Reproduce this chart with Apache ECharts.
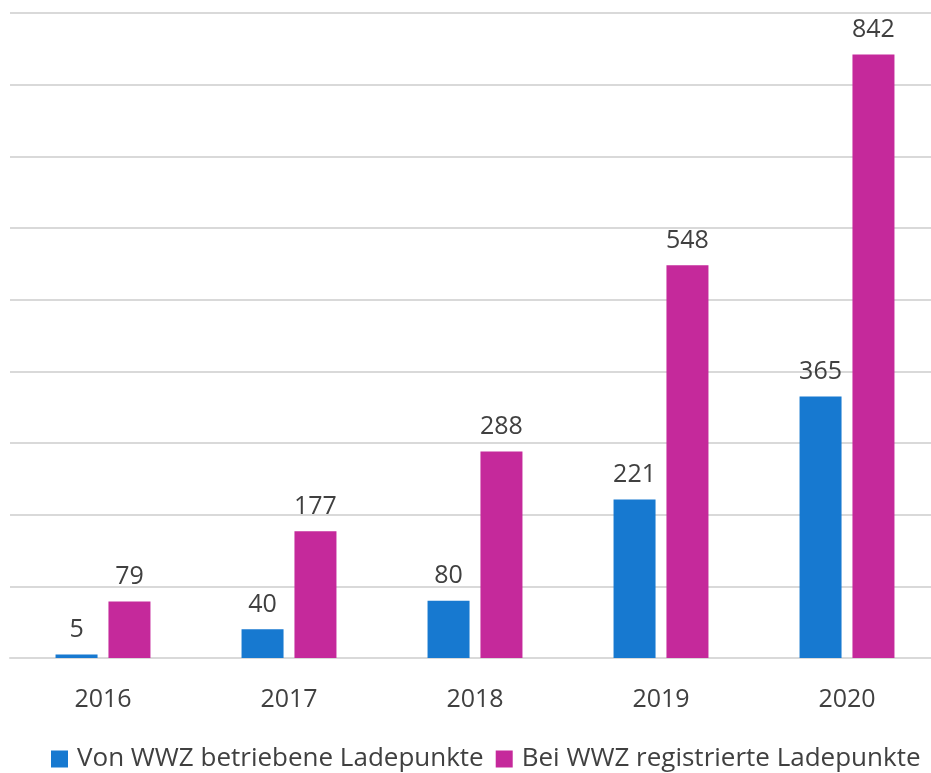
<!DOCTYPE html>
<html>
<head>
<meta charset="utf-8">
<script src="https://cdn.jsdelivr.net/npm/echarts@6/dist/echarts.min.js"></script>
<style>
html, body { margin: 0; padding: 0; background: #fff; }
#chart { width: 931px; height: 773px; }
</style>
</head>
<body>
<div id="chart"></div>
<script>
var years = ['2016', '2017', '2018', '2019', '2020'];
var betrieben = [5, 40, 80, 221, 365];
var registriert = [79, 177, 288, 548, 842];

var txt = '#404040';
var fontFam = '"Open Sans", "Noto Sans", sans-serif';

var labelStyle = {
    show: true,
    position: 'top',
    distance: 12,
    color: txt,
    fontSize: 25,
    fontFamily: fontFam
};

var myEcharts = echarts.init(document.getElementById('chart'));
var option = {
    animation: false,
    textStyle: { fontFamily: fontFam },
    legend: {
        bottom: -4,
        left: 46,
        itemWidth: 17,
        itemHeight: 17,
        itemGap: 12,
        icon: 'rect',
        textStyle: { color: txt, fontSize: 26, fontFamily: fontFam, padding: [0, 0, 0, 4] },
        data: ['Von WWZ betriebene Ladepunkte', 'Bei WWZ registrierte Ladepunkte']
    },
    grid: {
        left: 10,
        right: -9,
        top: 13,
        bottom: 115,
        outerBoundsMode: 'none'
    },
    xAxis: {
        type: 'category',
        data: years,
        axisTick: { show: false },
        axisLine: { lineStyle: { color: '#d9d9d9', width: 2 } },
        axisLabel: { color: txt, fontSize: 25, margin: 29, fontFamily: fontFam }
    },
    yAxis: {
        type: 'value',
        min: 0,
        max: 900,
        interval: 100,
        axisLabel: { show: false },
        axisLine: { show: false },
        axisTick: { show: false },
        splitLine: { lineStyle: { color: '#d9d9d9', width: 2 } }
    },
    series: [
        {
            name: 'Von WWZ betriebene Ladepunkte',
            type: 'bar',
            data: betrieben,
            barWidth: 42,
            barGap: '26%',
            itemStyle: { color: '#1779D0' },
            label: labelStyle
        },
        {
            name: 'Bei WWZ registrierte Ladepunkte',
            type: 'bar',
            data: registriert,
            barWidth: 42,
            itemStyle: { color: '#C5299B' },
            label: labelStyle
        }
    ]
};
myEcharts.setOption(option);
</script>
</body>
</html>
